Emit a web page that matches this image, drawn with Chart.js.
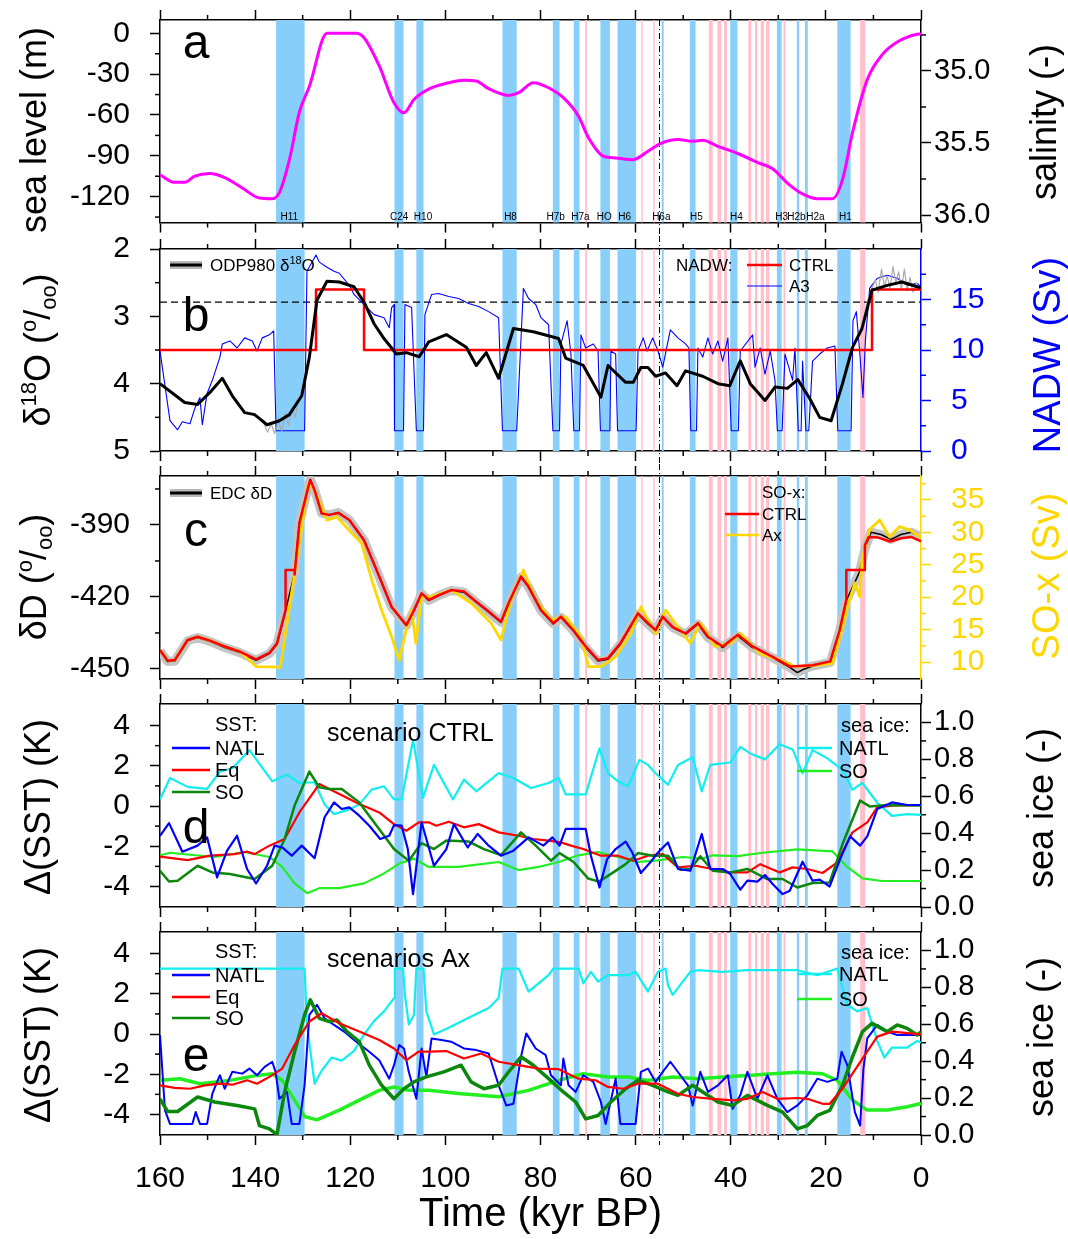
<!DOCTYPE html>
<html>
<head>
<meta charset="utf-8">
<script src="https://cdn.jsdelivr.net/npm/chart.js@4.4.1/dist/chart.umd.min.js"></script>
<style>
  html, body { margin: 0; padding: 0; background: #fff; }
  #wrap { position: relative; width: 1068px; height: 1239px; overflow: hidden; }
  #wrap canvas { position: absolute; left: 0; }
</style>
</head>
<body>
<div id="wrap">
  <canvas id="panelA" width="1068" height="236" style="top:0px"></canvas>
  <canvas id="panelB" width="1068" height="228" style="top:236px"></canvas>
  <canvas id="panelC" width="1068" height="228" style="top:464px"></canvas>
  <canvas id="panelD" width="1068" height="228" style="top:692px"></canvas>
  <canvas id="panelE" width="1068" height="319" style="top:920px"></canvas>
</div>
<script>
// ---- event shading (kyr BP) ----
const heinrichBands = [[135.6,129.6],[110.7,108.8],[106.1,104.6],[88.0,85.0],[77.4,76.0],[73.0,71.8],[67.4,65.4],[63.8,59.9],[54.5,54.1],[48.6,47.4],[40.1,38.6],[30.3,29.3],[26.1,25.6],[24.4,23.8],[17.6,14.8]];
const pinkBands = [[70.6,70.2],[58.8,58.5],[56.3,56.0],[44.6,43.8],[42.8,42.0],[41.4,40.8],[36.3,35.7],[34.9,34.4],[33.7,33.0],[32.6,31.9],[28.9,28.5],[12.8,11.7]];
const eventLabels = ['H11','C24','H10','H8','H7b','H7a','HO','H6','H6a','H5','H4','H3','H2b','H2a','H1'];
const eventLabelTimes = [132.8,109.7,104.7,86.3,76.8,71.6,66.6,62.3,54.6,47.2,38.8,29.3,26.2,22.2,15.9];
const markerTime = 55.0;

// ---- tick values ----
const xTicks = [0,20,40,60,80,100,120,140,160];
const xMinor = [10,30,50,70,90,110,130,150];
const seaLevelTicks = [0,-30,-60,-90,-120], seaLevelMinor = [-15,-45,-75,-105,-135];
const salinityTicks = [35.0,35.5,36.0], salinityMinor = [34.75,35.25,35.75];
const d18OTicks = [2,3,4,5], d18OMinor = [2.5,3.5,4.5];
const nadwTicks = [0,5,10,15], nadwMinor = [2.5,7.5,12.5,17.5];
const dDTicks = [-390,-420,-450], dDMinor = [-375,-405,-435];
const soxTicks = [10,15,20,25,30,35], soxMinor = [12.5,17.5,22.5,27.5,32.5,37.5];
const sstTicks = [-4,-2,0,2,4], sstMinor = [-3,-1,1,3];
const iceTicks = [0,0.2,0.4,0.6,0.8,1.0], iceMinor = [0.1,0.3,0.5,0.7,0.9];

// ---- panel a: sea level (m) ----
const seaLevel = [[160,-104],[156.9,-109.5],[154.8,-109.5],[152.7,-105],[149.5,-103],[146.4,-106],[142.7,-113.6],[139.1,-121],[136.4,-121.5],[134.9,-117],[132.8,-93],[130.7,-58],[128.6,-39],[124.9,0],[118.8,0],[117.1,-3.2],[113.9,-24],[110.8,-51],[108.7,-58.4],[106.6,-48.6],[103.5,-41],[99.3,-36.3],[96.1,-34.4],[93.5,-35],[90.9,-40.7],[86.7,-45.6],[84.6,-43.6],[81.5,-36.3],[78.3,-40],[75.2,-47.3],[72.0,-60.9],[69.9,-76.8],[66.8,-90.3],[64.2,-91.6],[60.5,-92.8],[57.4,-86.6],[54.8,-81],[51.1,-78],[48.0,-79.3],[45.9,-78.5],[42.7,-83],[38.5,-88.3],[34.3,-95],[31.2,-99.5],[28.1,-110],[24.9,-118],[21.8,-121.5],[18.6,-121.5],[16.5,-107.5],[14.4,-73],[11.3,-34],[8.1,-15.5],[5.0,-6.4],[0.8,-0.7],[0,-0.5]];

// ---- panel b: ODP980 d18O (permil) and NADW (Sv) ----
const odp980 = [[160,4.0],[154.8,4.28],[152.1,4.31],[149.5,4.13],[146.9,3.92],[144.8,4.18],[142.2,4.43],[140.1,4.46],[137.5,4.61],[134.9,4.55],[132.8,4.46],[130.2,4.18],[128.6,3.61],[127.0,2.76],[124.9,2.48],[122.3,2.49],[119.2,2.56],[117.1,2.79],[115.0,3.11],[112.9,3.33],[110.3,3.56],[108.2,3.54],[105.5,3.6],[103.5,3.38],[99.8,3.27],[95.6,3.46],[93.5,3.73],[91.4,3.54],[88.8,3.92],[85.7,3.18],[81.5,3.23],[76.2,3.33],[74.7,3.62],[71.0,3.73],[67.3,4.2],[65.8,3.73],[62.1,3.98],[60.5,3.98],[58.9,3.76],[57.4,3.76],[55.8,3.89],[53.7,3.84],[51.3,4.03],[49.5,3.81],[45.9,3.89],[42.7,4.0],[40.2,4.03],[38.0,3.66],[35.9,4.0],[32.8,4.25],[30.7,4.05],[28.1,4.07],[25.9,3.94],[23.4,4.22],[21.3,4.5],[18.9,4.55],[16.5,4.0],[14.4,3.46],[12.4,3.18],[10.3,2.61],[7.1,2.54],[4.0,2.49],[0.8,2.56],[0,2.58]];
const odp980Raw = [[138.2,4.58],[137.4,4.72],[136.6,4.6],[135.9,4.74],[135.1,4.56],[134.4,4.7],[133.7,4.44],[133.0,4.62],[132.3,4.36],[131.6,4.5],[131.0,4.3],[130.2,null],[12.0,3.02],[11.2,2.76],[10.4,2.6],[9.6,2.46],[9.0,2.64],[8.3,2.3],[7.7,2.56],[7.1,2.4],[6.5,2.58],[5.9,2.26],[5.3,2.5],[4.7,2.34],[4.1,2.6],[3.5,2.3],[2.9,2.62],[2.3,2.42],[1.7,2.64],[1.0,2.5],[0.3,2.6]];
const dashedLevel = 2.79;
const nadwCtrl = [[160,10],[127.2,10],[127.2,16],[117.1,16],[117.1,10],[10.3,10],[10.3,16],[0,16]];
const nadwA3 = [[160,9.9],[157.9,3.0],[156.3,2.1],[155.3,2.9],[153.7,2.7],[152.7,4.2],[151.6,5.3],[151.1,2.6],[150.1,5.7],[149.0,7.0],[147.4,9.3],[146.9,10.6],[145.3,10.9],[143.8,10.2],[142.2,11.2],[140.6,10.9],[139.6,9.9],[138.5,11.2],[137.0,11.5],[136.1,11.9],[135.6,2],[129.6,2],[129.1,17.8],[127.2,19.4],[126.5,18.7],[124.9,18.2],[123.4,17.8],[122.3,17.6],[120.2,16.4],[119.2,15.5],[117.1,14.5],[115.0,13.5],[112.9,13.2],[111.8,12.2],[111.3,14.2],[110.8,14.5],[110.7,2],[108.8,2],[108.5,14.5],[107.1,14.2],[106.1,2],[104.6,2],[104.3,13.5],[102.9,15.5],[101.4,15.6],[99.3,15.3],[97.2,15.1],[95.1,14.6],[93.0,14.3],[90.9,13.8],[88.8,13.2],[88.0,2],[85.0,2],[83.6,16.1],[82.5,15.1],[81.0,14.5],[79.9,13.2],[78.3,12.5],[77.4,2],[76.0,2],[75.7,10.6],[74.4,12.9],[73.6,9.6],[73.0,2],[71.8,2],[71.5,11.5],[70.5,10.2],[68.9,10.6],[67.9,9.9],[67.4,2],[65.4,2],[65.2,9.9],[64.2,9.6],[63.8,2],[59.9,2],[59.5,9.9],[58.4,11.2],[57.6,9.9],[56.4,11.2],[55.3,9.9],[54.3,8.3],[52.7,12.0],[51.1,11.2],[49.5,10.6],[48.8,10.2],[48.4,2],[47.2,2],[46.9,10.2],[45.9,9.3],[44.8,11.2],[43.8,9.6],[42.7,10.9],[41.7,8.9],[40.6,11.2],[39.9,2],[38.4,2],[38.0,9.9],[35.4,11.5],[34.9,8.3],[33.8,10.2],[32.8,7.6],[31.7,9.9],[30.7,7.0],[30.2,2],[29.2,2],[28.6,9.6],[27.0,7.0],[26.5,10.2],[25.8,2],[25.2,2],[24.9,8.9],[24.2,2],[23.6,2],[22.8,8.9],[21.3,9.6],[19.7,10.2],[18.1,10.4],[17.5,2],[14.7,2],[14.3,12.9],[13.6,13.8],[12.9,9.9],[12.2,5.3],[11.7,10.9],[10.8,16.1],[9.2,17.1],[7.1,17.4],[5.0,17.1],[2.9,16.4],[0.8,16.6],[0,16.2]];

// ---- panel c: EDC dD (permil) and SO-x (Sv) ----
const edcDeltaD = [[160,-442.5],[158.4,-446.9],[156.9,-446.7],[154.2,-438.3],[152.1,-436.9],[149.5,-438.5],[146.4,-441.1],[143.2,-443.2],[139.8,-446.4],[137.0,-443.6],[135.4,-439.7],[133.6,-425.7],[131.7,-410],[130.7,-389.3],[128.8,-373.9],[128.4,-371.1],[127.5,-375.3],[126.0,-385.1],[124.4,-385.8],[122.5,-384.8],[120.2,-387.9],[117.1,-396.3],[113.9,-411.7],[111.3,-424.3],[108.2,-432.0],[106.6,-425.7],[105.0,-418.7],[103.5,-421.5],[101.4,-419.4],[98.8,-417.3],[96.1,-418.0],[93.5,-422.2],[90.9,-426.4],[88.3,-430.6],[86.7,-422.9],[84.1,-411.7],[82.5,-415.9],[79.9,-425.7],[77.3,-431.3],[75.7,-428.5],[73.1,-434.1],[70.5,-441.1],[67.9,-446.7],[65.8,-446.0],[63.2,-439.7],[59.5,-427.1],[57.4,-431.3],[55.8,-434.1],[54.3,-428.5],[52.2,-432.7],[49.5,-435.5],[46.9,-431.3],[44.8,-436.9],[41.7,-441.1],[38.5,-436.2],[35.4,-441.1],[31.2,-445.3],[27.5,-449.5],[26.0,-451.5],[24.5,-450],[22.8,-448.8],[19.1,-447.4],[17.1,-434.1],[15.7,-421.5],[13.0,-410],[11.8,-400],[10.5,-393],[8.4,-394],[6.3,-396],[4.2,-394],[2.1,-393],[0,-395]];
const soxCtrl = [[160,11.85],[158.4,10.2],[156.9,10.3],[154.2,13.4],[152.1,13.9],[149.5,13.3],[146.4,12.4],[143.2,11.6],[139.8,10.4],[137.0,11.4],[135.4,12.9],[133.6,18.0],[133.6,24.2],[131.7,24.2],[131.7,23.5],[130.7,31.4],[128.8,37.1],[128.4,38.1],[127.5,36.5],[126.0,32.9],[124.4,32.7],[122.5,33.0],[120.2,31.9],[117.1,28.8],[113.9,23.2],[111.3,18.5],[108.2,15.7],[106.6,18.0],[105.0,20.6],[103.5,19.6],[101.4,20.3],[98.8,21.1],[96.1,20.9],[93.5,19.3],[90.9,17.8],[88.3,16.2],[86.7,19.1],[84.1,23.2],[82.5,21.6],[79.9,18.0],[77.3,16.0],[75.7,17.0],[73.1,14.9],[70.5,12.4],[67.9,10.3],[65.8,10.6],[63.2,12.9],[59.5,17.5],[57.4,16.0],[55.8,14.9],[54.3,17.0],[52.2,15.4],[49.5,14.4],[46.9,16.0],[44.8,13.9],[41.7,12.4],[38.5,14.2],[35.4,12.4],[31.2,10.8],[27.5,9.3],[22.8,9.5],[19.1,10.1],[17.1,14.9],[15.7,19.6],[15.7,24.2],[11.8,24.2],[11.8,28],[11.0,29.3],[9.0,29.2],[6.5,28.6],[4.2,29.1],[2.1,29.3],[0,28.6]];
const soxAx = [[160,11.85],[158.4,10.2],[156.9,10.3],[154.2,13.4],[152.1,13.9],[149.5,13.3],[146.4,12.4],[143.2,11.6],[139.8,9.3],[134.7,9.2],[128.8,37.6],[127.5,36.5],[124.9,31.9],[122.8,32.4],[119.7,29.9],[117.6,28.3],[115.5,22.7],[113.4,18.0],[111.3,13.9],[109.7,10.3],[108.1,15.4],[107.1,18.0],[106.2,12.9],[105.0,20.1],[102.9,20.1],[98.8,21.1],[94.6,19.1],[90.4,16.0],[88.3,13.4],[86.2,19.6],[83.6,24.2],[81.0,19.6],[77.8,16.5],[74.7,17.0],[71.5,13.9],[69.9,9.3],[67.3,9.3],[64.2,10.8],[61.0,14.4],[58.9,18.5],[55.8,14.4],[53.7,18.0],[50.6,14.9],[48.5,12.9],[46.4,16.0],[43.2,12.4],[40.1,12.9],[38.0,14.4],[33.8,11.3],[29.6,10.3],[26.5,9.3],[22.3,9.5],[18.6,9.8],[16.5,15.4],[15.2,19.1],[13.9,22.2],[12.9,20.1],[12.4,25.8],[10.8,30.4],[8.7,31.9],[6.6,29.3],[4.5,30.9],[2.4,30.4],[0.3,29.3],[0,29.8]];

// ---- panel d: scenario CTRL, dSST (K) and sea ice (-) ----
const natlSstCtrl = [[160,-1.48],[158.1,-0.85],[155.3,-2.27],[152.1,-1.97],[150.1,-1.56],[148.0,-3.55],[145.9,-2.22],[143.8,-1.48],[141.7,-3.13],[139.8,-3.85],[137.5,-2.97],[135.9,-1.97],[134.3,-2.06],[132.3,-2.47],[130.2,-1.97],[127.5,-2.6],[125.4,-0.56],[123.4,0.18],[121.8,-0.15],[120.2,-0.07],[118.1,-0.48],[116.0,-0.98],[113.7,-1.64],[111.8,-1.48],[110.8,-0.95],[109.2,-0.98],[107.9,-2.14],[106.8,-4.38],[105.0,-0.81],[102.4,-2.97],[99.8,-2.14],[98.2,-0.9],[95.3,-2.06],[93.2,-1.39],[90.9,-1.97],[88.3,-2.47],[85.7,-2.22],[82.5,-1.56],[79.4,-1.97],[77.5,-1.56],[76.0,-1.97],[74.7,-1.14],[70.5,-1.14],[69.4,-2.47],[67.6,-4.05],[66.0,-2.64],[64.2,-2.14],[62.1,-1.77],[60.7,-2.31],[58.9,-3.33],[56.9,-2.8],[55.3,-2.31],[53.2,-1.81],[51.1,-3.13],[48.5,-3.22],[46.1,-1.39],[44.3,-3.13],[41.7,-3.13],[40.1,-3.38],[38.0,-4.16],[36.5,-3.71],[34.4,-3.76],[32.8,-3.43],[31.2,-3.88],[29.1,-4.38],[27.6,-4.21],[24.9,-2.77],[22.8,-3.71],[21.3,-3.66],[19.2,-4.0],[17.0,-2.64],[14.9,-1.51],[12.8,-1.97],[11.3,-1.51],[9.2,-0.15],[6.1,0.18],[2.9,0.05],[0,0.05]];
const eqSstCtrl = [[160,-2.52],[154.2,-2.69],[149.5,-2.47],[144.3,-2.39],[141.7,-2.27],[140.1,-2.39],[137.0,-1.97],[133.8,-1.64],[130.7,-0.32],[126.5,1.09],[122.3,0.6],[118.1,0.1],[113.9,-0.32],[110.8,-0.9],[108.2,-1.23],[105.6,-0.81],[103.5,-0.81],[101.9,-0.98],[99.3,-0.78],[96.1,-1.06],[93.0,-0.9],[88.8,-1.31],[84.6,-1.48],[81.5,-1.64],[78.3,-1.72],[75.7,-1.81],[73.6,-1.97],[71.0,-2.14],[67.3,-2.47],[63.7,-2.47],[60.5,-2.72],[57.4,-2.47],[54.3,-2.39],[51.1,-3.05],[47.4,-2.97],[43.8,-3.13],[40.1,-3.3],[36.5,-3.3],[33.8,-2.89],[29.7,-3.3],[27.0,-3.05],[23.9,-3.13],[20.7,-3.33],[17.6,-2.8],[14.4,-1.31],[11.3,-0.81],[9.2,-0.07],[6.1,0.02],[0,0.05]];
const soSstCtrl = [[160,-3.22],[158.1,-3.75],[156.3,-3.71],[152.1,-2.97],[149.0,-3.3],[145.3,-3.38],[140.1,-3.63],[136.4,-2.97],[133.8,-1.64],[131.7,0.02],[128.6,1.71],[126.5,0.93],[124.4,0.85],[121.8,0.85],[118.1,0.18],[115.0,-0.81],[110.8,-2.14],[107.7,-2.72],[105.0,-1.84],[102.4,-2.14],[99.8,-1.72],[95.1,-1.77],[91.9,-2.14],[88.3,-2.44],[84.1,-1.31],[81.0,-1.97],[77.8,-2.72],[76.0,-2.34],[73.1,-2.77],[70.0,-3.6],[67.7,-3.76],[64.7,-3.3],[62.1,-2.89],[59.5,-2.34],[56.4,-2.47],[53.2,-2.47],[50.6,-3.17],[48.5,-3.13],[46.4,-2.5],[43.8,-3.22],[40.1,-3.3],[36.5,-3.13],[32.3,-3.63],[29.1,-3.63],[26.0,-4.05],[22.8,-3.83],[19.2,-3.8],[16.5,-1.89],[12.8,0.27],[10.8,-0.02],[7.1,0.05],[0,0.02]];
const natlIceCtrl = [[160,0.583],[157.9,0.699],[154.2,0.651],[150.1,0.64],[147.4,0.734],[144.8,0.752],[141.2,0.85],[136.4,0.681],[133.3,0.717],[130.7,0.672],[127.5,0.676],[125.4,0.556],[123.4,0.503],[120.2,0.529],[118.1,0.556],[115.5,0.636],[112.9,0.654],[110.8,0.583],[109.2,0.583],[106.8,0.904],[104.7,0.592],[102.4,0.77],[98.4,0.583],[96.1,0.69],[93.5,0.627],[88.8,0.725],[85.7,0.699],[82.0,0.645],[78.3,0.672],[76.2,0.699],[74.7,0.61],[70.5,0.61],[67.6,0.859],[65.8,0.725],[63.7,0.681],[61.6,0.654],[59.2,0.797],[57.4,0.77],[55.8,0.725],[53.2,0.663],[51.1,0.77],[48.0,0.811],[46.1,0.627],[44.3,0.77],[40.1,0.783],[38.0,0.868],[35.9,0.832],[32.8,0.8],[29.7,0.882],[27.0,0.854],[24.9,0.725],[22.8,0.85],[19.7,0.806],[16.5,0.743],[14.4,0.636],[12.3,0.672],[9.2,0.565],[6.1,0.494],[2.9,0.503],[0,0.499]];
const soIceCtrl = [[160,0.28],[157.9,0.294],[153.7,0.283],[148.5,0.271],[142.2,0.298],[137.0,0.271],[134.3,0.217],[131.7,0.128],[129.1,0.075],[126.5,0.102],[122.3,0.102],[117.1,0.128],[112.9,0.182],[109.7,0.235],[106.6,0.262],[103.5,0.217],[97.2,0.217],[88.8,0.244],[84.6,0.2],[80.4,0.217],[76.2,0.244],[72.0,0.28],[67.9,0.298],[63.7,0.271],[59.5,0.244],[55.3,0.253],[50.1,0.271],[45.9,0.262],[43.8,0.28],[38.5,0.276],[33.3,0.294],[26.0,0.312],[18.6,0.301],[15.5,0.217],[12.3,0.155],[8.2,0.141],[0,0.141]];

// ---- panel e: scenarios Ax ----
const natlSstAx = [[160,-0.05],[158.95,-3.8],[157.9,-4.47],[153.2,-4.47],[152.5,-3.88],[151.6,-4.47],[150.1,-4.47],[149.0,-2.97],[148.0,-2.38],[147.4,-2.05],[146.4,-2.72],[144.8,-1.88],[142.7,-1.97],[141.2,-1.72],[139.6,-2.05],[138.0,-1.63],[136.4,-1.38],[135.7,-1.88],[134.9,-3.22],[133.3,-2.88],[132.3,-4.47],[130.7,-4.47],[129.6,-2.55],[128.6,0.95],[127.0,1.45],[125.4,0.78],[123.4,0.45],[121.3,0.12],[119.2,-0.3],[116.0,-0.88],[113.9,-1.3],[111.8,-2.22],[110.8,-1.55],[109.7,-0.55],[108.7,-0.72],[107.7,-1.88],[106.1,-3.22],[105.0,-0.72],[104.0,-2.13],[102.9,-0.22],[100.8,-0.3],[98.8,-0.38],[96.1,-0.72],[93.5,-0.8],[90.9,-0.97],[88.8,-2.55],[87.2,-3.55],[85.7,-3.47],[84.1,-1.13],[83.0,0.03],[81.0,-0.72],[78.9,-1.05],[77.8,-2.05],[75.7,-2.55],[75.2,-1.22],[74.1,-2.55],[72.6,-2.88],[71.0,-2.05],[68.9,-2.38],[67.3,-3.38],[66.3,-4.47],[64.2,-2.22],[63.2,-4.47],[60.0,-4.47],[58.9,-1.88],[57.4,-1.72],[55.8,-2.38],[54.3,-1.88],[52.7,-1.38],[50.6,-2.05],[49.0,-2.55],[48.0,-3.55],[46.4,-1.88],[44.8,-2.88],[42.7,-2.55],[40.6,-2.05],[39.6,-3.72],[38.0,-3.05],[36.5,-1.88],[34.4,-3.22],[32.3,-2.05],[30.2,-3.22],[28.1,-3.88],[26.0,-3.55],[23.9,-3.05],[21.8,-2.22],[19.7,-2.38],[17.6,-2.22],[16.7,-0.88],[15.5,-1.55],[13.9,-3.88],[12.8,-4.55],[12.1,-1.72],[11.3,-0.22],[9.2,0.45],[7.1,0.12],[5.0,-0.05],[0,-0.05]];
const eqSstAx = [[160,-2.55],[156.9,-2.68],[153.7,-2.72],[150.6,-2.55],[147.4,-2.47],[144.8,-2.52],[141.7,-2.3],[139.6,-2.47],[137.0,-2.13],[134.3,-1.72],[131.7,-0.55],[128.6,0.62],[126.0,1.03],[122.3,0.53],[118.1,0.12],[113.9,-0.3],[110.8,-0.72],[108.2,-1.3],[105.6,-0.88],[103.5,-0.88],[99.8,-0.85],[96.1,-1.22],[92.5,-0.97],[88.8,-1.38],[84.6,-1.55],[80.4,-1.72],[76.2,-1.75],[72.0,-2.22],[68.4,-2.3],[65.8,-2.63],[62.6,-2.72],[59.5,-2.47],[55.3,-2.47],[51.1,-2.97],[48.0,-3.13],[43.8,-3.22],[39.6,-3.3],[36.5,-3.22],[33.3,-2.88],[30.2,-3.22],[26.0,-3.18],[23.9,-3.22],[20.7,-3.47],[19.2,-3.47],[16.5,-2.72],[14.4,-1.97],[12.3,-1.22],[9.2,-0.13],[6.1,0.12],[0,-0.02]];
const soSstAx = [[160,-3.22],[158.4,-3.85],[156.3,-3.85],[152.1,-3.13],[148.5,-3.38],[143.8,-3.55],[140.1,-3.72],[139.1,-4.55],[137.0,-4.72],[135.4,-5.0],[133.8,-2.88],[131.7,-0.88],[129.6,0.95],[128.4,1.7],[126.5,0.78],[124.4,0.62],[122.8,0.7],[120.7,0.12],[118.1,-0.38],[116.0,-1.55],[113.4,-2.55],[110.8,-3.22],[108.7,-2.72],[106.6,-2.38],[104.0,-2.13],[100.3,-1.88],[96.7,-1.55],[94.6,-2.38],[91.9,-2.72],[88.8,-2.55],[86.7,-1.88],[84.1,-1.13],[81.5,-1.55],[78.3,-2.22],[75.2,-2.88],[72.6,-3.38],[70.5,-4.22],[67.9,-4.05],[65.2,-3.38],[62.1,-2.72],[59.5,-2.3],[56.4,-2.55],[53.2,-2.88],[51.1,-3.05],[48.0,-2.55],[45.9,-2.88],[42.7,-3.38],[39.6,-3.55],[36.5,-3.05],[32.3,-3.55],[29.1,-3.88],[26.0,-4.72],[23.9,-4.55],[21.8,-4.05],[19.2,-3.8],[16.5,-2.55],[14.4,-1.13],[12.3,0.12],[10.3,0.53],[7.1,0.12],[5.0,0.45],[2.9,0.28],[0.8,-0.05],[0,0.1]];
const natlIceAx = [[160,0.902],[135.6,0.902],[129.6,0.902],[129.1,0.6],[127.5,0.278],[126.0,0.349],[123.9,0.42],[121.8,0.403],[119.2,0.456],[117.1,0.545],[115.0,0.617],[112.9,0.67],[110.8,0.742],[110.6,0.902],[108.9,0.902],[108.5,0.759],[107.7,0.599],[106.6,0.652],[106.1,0.902],[104.6,0.902],[104.0,0.67],[102.4,0.545],[99.3,0.581],[95.1,0.635],[90.9,0.688],[88.8,0.742],[88.0,0.902],[84.6,0.902],[82.5,0.777],[80.4,0.822],[78.3,0.866],[77.3,0.902],[72.0,0.902],[71.0,0.822],[69.4,0.884],[67.9,0.831],[65.8,0.866],[61.6,0.866],[60.0,0.884],[57.4,0.777],[55.3,0.884],[53.7,0.902],[53.2,0.813],[52.2,0.759],[50.1,0.831],[48.5,0.884],[46.9,0.893],[41.7,0.884],[36.5,0.893],[26.0,0.893],[21.8,0.866],[17.6,0.902],[15.5,0.706],[13.4,0.67],[11.3,0.688],[9.2,0.51],[7.7,0.42],[6.1,0.474],[2.9,0.474],[0.8,0.51],[0,0.5]];
const soIceAx = [[160,0.296],[155.8,0.305],[151.6,0.278],[145.3,0.296],[139.6,0.323],[136.4,0.332],[134.3,0.296],[131.7,0.189],[129.6,0.1],[127.0,0.082],[122.3,0.135],[118.1,0.189],[113.9,0.242],[110.8,0.26],[107.7,0.242],[103.5,0.242],[97.2,0.225],[88.8,0.207],[82.5,0.242],[76.2,0.296],[71.0,0.332],[65.8,0.314],[61.6,0.314],[57.4,0.296],[52.2,0.314],[46.9,0.305],[41.7,0.314],[36.5,0.323],[31.2,0.332],[26.0,0.34],[20.7,0.332],[17.6,0.296],[14.4,0.189],[11.3,0.135],[7.1,0.135],[2.9,0.153],[0,0.171]];

// ---- colours ----
const C = {
  blueBar: '#87cefa', pinkBar: '#ffc0cb', magenta: '#ff00ff', red: '#ff0000',
  blue: '#0000ff', gold: '#ffd700', grey: '#c4c4c4', green: '#0b870b',
  lime: '#22ee22', cyan: '#11eeee', black: '#000000'
};
const FONT = "'Liberation Sans', Arial, Helvetica, sans-serif";
Chart.defaults.font.family = FONT;
Chart.defaults.color = '#000';

function pts(pairs) { return pairs.map(p => ({ x: p[0], y: p[1] })); }

function line(pairs, color, width, axis, extra) {
  return Object.assign({
    data: pts(pairs), borderColor: color, borderWidth: width, yAxisID: axis,
    pointRadius: 0, fill: false, tension: 0, borderJoinStyle: 'round', spanGaps: false
  }, extra || {});
}

// right-hand labels are left aligned; labelPad sets their distance from the tick
function yAxis(pos, min, max, ticks, fmt, color, reverse, labelPad, fontSize) {
  return {
    type: 'linear', position: pos, min: min, max: max, reverse: !!reverse,
    afterBuildTicks: s => { s.ticks = ticks.map(v => ({ value: v })); },
    // fixed widths, and no extra room for labels sitting at the ends
    afterFit: s => { s.width = pos === 'left' ? 160 : 147; s.paddingTop = 0; s.paddingBottom = 0; },
    border: { display: true, color: color, width: 1.5 },
    grid: { drawOnChartArea: false, tickLength: 10, tickColor: color, tickWidth: 1.5 },
    ticks: {
      color: color, font: { size: fontSize || 30 }, autoSkip: false,
      padding: labelPad != null ? labelPad : 20, crossAlign: 'near', callback: fmt
    }
  };
}

function xAxis(pos, showLabels, height) {
  return {
    type: 'linear', position: pos, min: 0, max: 160, reverse: true,
    afterBuildTicks: s => { s.ticks = xTicks.map(v => ({ value: v })); },
    afterFit: s => { s.height = height; s.paddingLeft = 0; s.paddingRight = 0; },
    border: { display: true, color: '#000', width: 1.5 },
    grid: { drawOnChartArea: false, tickLength: 10, tickColor: '#000', tickWidth: 1.5 },
    ticks: { display: showLabels, font: { size: 30 }, padding: 16, maxRotation: 0, autoSkip: false, color: '#000' },
    title: { display: showLabels, text: 'Time (kyr BP)', font: { size: 40 }, color: '#000', padding: 0 }
  };
}

// text made of normal / superscript / subscript pieces
function drawRich(ctx, x, y, parts, size, color, rotate, align) {
  ctx.save();
  ctx.translate(x, y);
  if (rotate) ctx.rotate(-Math.PI / 2);
  ctx.fillStyle = color;
  ctx.textBaseline = 'alphabetic';
  ctx.textAlign = 'left';
  const fontOf = k => (k === 'n' ? size : Math.round(size * 0.62)) + 'px ' + FONT;
  let total = 0;
  const widths = parts.map(p => { ctx.font = fontOf(p[1]); const w = ctx.measureText(p[0]).width; total += w; return w; });
  let cx = align === 'center' ? -total / 2 : 0;
  const base = size * 0.36;
  parts.forEach((p, i) => {
    ctx.font = fontOf(p[1]);
    const dy = p[1] === 'sup' ? -size * 0.4 : p[1] === 'sub' ? size * 0.16 : 0;
    ctx.fillText(p[0], cx, base + dy);
    cx += widths[i];
  });
  ctx.restore();
}

function decorPlugin(spec) {
  return {
    id: 'decor',
    beforeDatasetsDraw(chart) {
      const ctx = chart.ctx, ca = chart.chartArea, xs = chart.scales.x;
      ctx.save();
      const band = (list, color) => {
        ctx.fillStyle = color;
        list.forEach(b => {
          const x0 = xs.getPixelForValue(b[0]), x1 = xs.getPixelForValue(b[1]);
          ctx.fillRect(Math.min(x0, x1), ca.top, Math.abs(x1 - x0), ca.bottom - ca.top);
        });
      };
      band(pinkBands, C.pinkBar);
      band(heinrichBands, C.blueBar);
      ctx.restore();
    },
    afterDraw(chart) {
      const ctx = chart.ctx, ca = chart.chartArea, xs = chart.scales.x;
      ctx.save();
      // minor ticks
      ctx.lineWidth = 1.5;
      Object.keys(spec.minor).forEach(id => {
        const s = chart.scales[id];
        ctx.strokeStyle = s.options.border.color;
        spec.minor[id].forEach(v => {
          const p = s.getPixelForValue(v);
          ctx.beginPath();
          if (s.position === 'bottom') { ctx.moveTo(p, ca.bottom); ctx.lineTo(p, ca.bottom + 5); }
          else if (s.position === 'top') { ctx.moveTo(p, ca.top); ctx.lineTo(p, ca.top - 5); }
          else if (s.position === 'left') { ctx.moveTo(ca.left, p); ctx.lineTo(ca.left - 5, p); }
          else { ctx.moveTo(ca.right, p); ctx.lineTo(ca.right + 5, p); }
          ctx.stroke();
        });
      });
      // dashed marker line
      const mx = Math.round(xs.getPixelForValue(markerTime)) + 0.5;
      ctx.strokeStyle = '#000';
      ctx.lineWidth = 1;
      ctx.setLineDash([6, 3, 1, 3]);
      ctx.beginPath();
      ctx.moveTo(mx, spec.lineTop != null ? spec.lineTop : 0);
      ctx.lineTo(mx, spec.lineBottom != null ? spec.lineBottom : chart.height);
      ctx.stroke();
      ctx.setLineDash([]);
      // event names (panel a)
      if (spec.eventNames) {
        ctx.font = '10px ' + FONT;
        ctx.fillStyle = '#000';
        ctx.textAlign = 'center';
        ctx.textBaseline = 'middle';
        eventLabels.forEach((t, i) => ctx.fillText(t, xs.getPixelForValue(eventLabelTimes[i]), spec.eventNames));
      }
      // panel letter
      ctx.font = '48px ' + FONT;
      ctx.fillStyle = '#000';
      ctx.textAlign = 'center';
      ctx.textBaseline = 'middle';
      ctx.fillText(spec.letter[0], spec.letter[1], spec.letter[2]);
      // legend
      spec.legend.forEach(it => {
        if (it.line) {
          if (it.halo) {
            ctx.strokeStyle = it.halo; ctx.lineWidth = it.width + 5;
            ctx.beginPath(); ctx.moveTo(it.x0, it.y); ctx.lineTo(it.x1, it.y); ctx.stroke();
          }
          ctx.strokeStyle = it.line; ctx.lineWidth = it.width;
          ctx.beginPath(); ctx.moveTo(it.x0, it.y); ctx.lineTo(it.x1, it.y); ctx.stroke();
        } else {
          drawRich(ctx, it.x, it.y, it.parts, it.size, it.color || '#000', false, 'left');
        }
      });
      // axis titles
      spec.titles.forEach(t => drawRich(ctx, t.x, t.y, t.parts, t.size || 36, t.color || '#000', true, 'center'));
      ctx.restore();
    }
  };
}

function panel(id, spec) {
  return new Chart(document.getElementById(id), {
    type: 'line',
    data: { datasets: spec.datasets },
    options: {
      responsive: false, animation: false, events: [],
      layout: { padding: 0 },
      plugins: { legend: { display: false }, tooltip: { enabled: false } },
      scales: {
        x: xAxis('bottom', !!spec.xLabels, spec.bottomH),
        xTop: xAxis('top', false, spec.topH),
        y: spec.y,
        y2: spec.y2
      }
    },
    plugins: [decorPlugin(spec)]
  });
}

const fmtInt = v => String(v);
const fmt1 = v => v.toFixed(1);
const T = s => [[s, 'n']];

// ---- a ----
panel('panelA', {
  topH: 20, bottomH: 13.5, lineTop: 20, eventNames: 217,
  y: yAxis('left', -139, 9.8, seaLevelTicks, fmtInt, '#000'),
  y2: yAxis('right', 34.646, 36.052, salinityTicks, fmt1, '#000', true, 3, 29),
  minor: { x: xMinor, xTop: xMinor, y: seaLevelMinor, y2: salinityMinor },
  datasets: [line(seaLevel, C.magenta, 3, 'y', { cubicInterpolationMode: 'monotone' })],
  letter: ['a', 196, 45],
  legend: [],
  titles: [{ x: 33, y: 130, parts: T('sea level (m)') }, { x: 1043, y: 122, parts: T('salinity (-)') }]
});

// ---- b ----
panel('panelB', {
  topH: 13, bottomH: 13,
  y: yAxis('left', 2, 5, d18OTicks, fmtInt, '#000', true),
  y2: yAxis('right', 0, 20, nadwTicks, fmtInt, C.blue, false, 20),
  minor: { x: xMinor, xTop: xMinor, y: d18OMinor, y2: nadwMinor },
  datasets: [
    line(odp980, C.black, 3, 'y'),
    line(nadwCtrl, C.red, 2.5, 'y2'),
    line(odp980Raw, '#aaaaaa', 1.2, 'y'),
    line(nadwA3, C.blue, 1.1, 'y2'),
    line([[160, dashedLevel], [0, dashedLevel]], C.black, 1.3, 'y', { borderDash: [7, 4] })
  ],
  letter: ['b', 196, 82],
  legend: [
    { line: C.black, halo: '#b8b8b8', width: 3, x0: 170, x1: 202, y: 29 },
    { x: 210, y: 29, size: 17, parts: [['ODP980 δ', 'n'], ['18', 'sup'], ['O', 'n']] },
    { x: 676, y: 29, size: 17, parts: T('NADW:') },
    { line: C.red, width: 2.5, x0: 747, x1: 782, y: 29 },
    { x: 789, y: 29, size: 17, parts: T('CTRL') },
    { line: C.blue, width: 1.2, x0: 747, x1: 782, y: 50 },
    { x: 789, y: 50, size: 17, parts: T('A3') }
  ],
  titles: [
    { x: 37, y: 114, parts: [['δ', 'n'], ['18', 'sup'], ['O (', 'n'], ['o', 'sup'], ['/', 'n'], ['oo', 'sub'], [')', 'n']] },
    { x: 1046, y: 119, parts: T('NADW (Sv)'), color: C.blue, size: 38 }
  ]
});

// ---- c ----
panel('panelC', {
  topH: 12, bottomH: 13,
  y: yAxis('left', -454.2, -369.6, dDTicks, fmtInt, '#000'),
  y2: yAxis('right', 7.38, 38.7, soxTicks, fmtInt, C.gold, false, 20),
  minor: { x: xMinor, xTop: xMinor, y: dDMinor, y2: soxMinor },
  datasets: [
    line(soxCtrl, C.red, 2.5, 'y2'),
    line(soxAx, C.gold, 2.8, 'y2'),
    line(edcDeltaD, C.black, 1.5, 'y'),
    line(edcDeltaD, C.grey, 9, 'y')
  ],
  letter: ['c', 196, 69],
  legend: [
    { line: C.black, halo: '#b8b8b8', width: 3, x0: 170, x1: 202, y: 29 },
    { x: 210, y: 29, size: 17, parts: T('EDC δD') },
    { x: 762, y: 28, size: 17, parts: T('SO-x:') },
    { line: C.red, width: 2.5, x0: 725, x1: 759, y: 50 },
    { x: 762, y: 50, size: 17, parts: T('CTRL') },
    { line: C.gold, width: 2.5, x0: 725, x1: 759, y: 71 },
    { x: 762, y: 71, size: 17, parts: T('Ax') }
  ],
  titles: [
    { x: 33, y: 113, parts: [['δD (', 'n'], ['o', 'sup'], ['/', 'n'], ['oo', 'sub'], [')', 'n']] },
    { x: 1045, y: 112, parts: T('SO-x (Sv)'), color: C.gold, size: 38 }
  ]
});

// ---- d ----
function sstLegend(title, rows) {
  return [
    { x: 215, y: rows[0], size: 20, parts: T('SST:') },
    { line: C.blue, width: 2.5, x0: 172, x1: 210, y: rows[1] },
    { x: 215, y: rows[1], size: 20, parts: T('NATL') },
    { line: C.red, width: 2.5, x0: 172, x1: 210, y: rows[2] },
    { x: 215, y: rows[2], size: 20, parts: T('Eq') },
    { line: C.green, width: 2.5, x0: 172, x1: 210, y: rows[3] },
    { x: 215, y: rows[3], size: 20, parts: T('SO') },
    { x: 327, y: rows[4], size: 25, parts: T(title) },
    { x: 841, y: rows[5], size: 20, parts: T('sea ice:') },
    { line: C.cyan, width: 2.5, x0: 797, x1: 832, y: rows[6] },
    { x: 839, y: rows[6], size: 20, parts: T('NATL') },
    { line: C.lime, width: 2.5, x0: 797, x1: 832, y: rows[7] },
    { x: 839, y: rows[7], size: 20, parts: T('SO') }
  ];
}

panel('panelD', {
  topH: 12, bottomH: 13,
  y: yAxis('left', -5.02, 5.07, sstTicks, fmtInt, '#000'),
  y2: yAxis('right', 0, 1.1, iceTicks, fmt1, '#000', false, 3, 29),
  minor: { x: xMinor, xTop: xMinor, y: sstMinor, y2: iceMinor },
  datasets: [
    line(natlSstCtrl, C.blue, 2.2, 'y'),
    line(soSstCtrl, C.green, 2.5, 'y'),
    line(eqSstCtrl, C.red, 2.2, 'y'),
    line(natlIceCtrl, C.cyan, 2.2, 'y2'),
    line(soIceCtrl, C.lime, 2.2, 'y2')
  ],
  letter: ['d', 196, 138],
  legend: sstLegend('scenario CTRL', [32, 56, 78, 100, 40, 33, 56, 79]),
  titles: [
    { x: 37, y: 115, parts: T('Δ(SST) (K)') },
    { x: 1040, y: 116, parts: T('sea ice (-)') }
  ]
});

// ---- e ----
panel('panelE', {
  topH: 12, bottomH: 104, xLabels: true, lineBottom: 225,
  y: yAxis('left', -5.02, 5.07, sstTicks, fmtInt, '#000'),
  y2: yAxis('right', 0, 1.1, iceTicks, fmt1, '#000', false, 3, 29),
  minor: { x: xMinor, xTop: xMinor, y: sstMinor, y2: iceMinor },
  datasets: [
    line(eqSstAx, C.red, 2.2, 'y'),
    line(soSstAx, C.green, 3.5, 'y'),
    line(natlSstAx, C.blue, 2, 'y'),
    line(natlIceAx, C.cyan, 2.2, 'y2'),
    line(soIceAx, C.lime, 3.5, 'y2')
  ],
  letter: ['e', 196, 138],
  legend: sstLegend('scenarios Ax', [31, 55, 77, 98, 38, 32, 54, 79]),
  titles: [
    { x: 37, y: 115, parts: T('Δ(SST) (K)') },
    { x: 1040, y: 117, parts: T('sea ice (-)') }
  ]
});
</script>
</body>
</html>
